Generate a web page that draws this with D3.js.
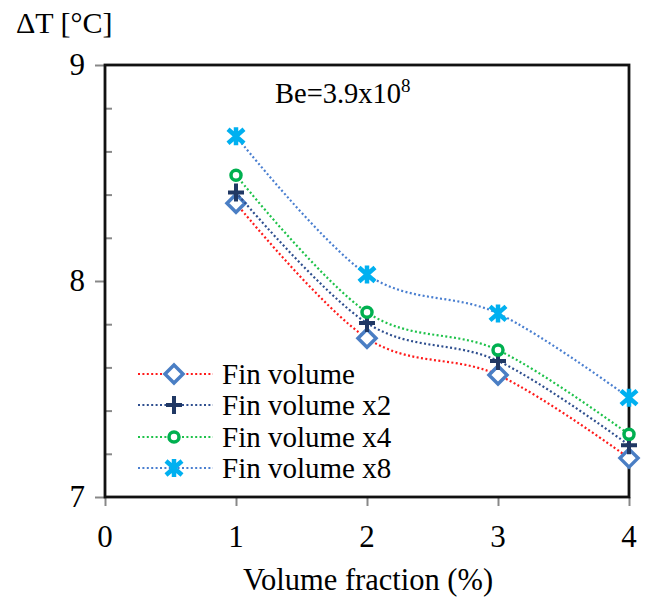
<!DOCTYPE html>
<html>
<head>
<meta charset="utf-8">
<script src="https://cdn.jsdelivr.net/npm/d3@7"></script>
<style>
  body { margin: 0; background: #fff; }
  text { font-family: "Liberation Serif", "Times New Roman", serif; fill: #000; }
</style>
</head>
<body>
<svg id="chart" width="649" height="603"></svg>
<script>
var svg = d3.select("#chart")
var plotLeft = 105, plotRight = 629, plotTop = 65, plotBottom = 497

// Data
var volumeFraction = [1, 2, 3, 4]
var seriesNames = ["Fin volume", "Fin volume x2", "Fin volume x4", "Fin volume x8"]
var finVolume   = [8.36, 7.735, 7.565, 7.18]
var finVolumeX2 = [8.41, 7.805, 7.63, 7.24]
var finVolumeX4 = [8.49, 7.855, 7.68, 7.29]
var finVolumeX8 = [8.67, 8.03, 7.85, 7.46]
var xTicks = [0, 1, 2, 3, 4]
var yTicks = [7, 8, 9]
var yMinorTicks = [7.2, 7.4, 7.6, 7.8, 8.2, 8.4, 8.6, 8.8]

var lineColors = ["#ff1a1a", "#2f4f8f", "#1ec24a", "#4a7fd0"]
var markerColors = ["#4a7ec4", "#203864", "#00b050", "#00b0f0"]
var markerTypes = ["diamond", "plus", "circle", "star"]
var seriesValues = [finVolume, finVolumeX2, finVolumeX4, finVolumeX8]

var x = d3.scaleLinear().domain([0, 4]).range([plotLeft, plotRight])
var y = d3.scaleLinear().domain([7, 9]).range([plotBottom, plotTop])

// axes
svg.append("g").attr("transform", "translate(0," + plotBottom + ")")
    .call(d3.axisBottom(x).tickValues(xTicks).tickSize(9).tickFormat(""))
    .call(g => g.select(".domain").remove())
    .call(g => g.selectAll("line").attr("stroke", "#888").attr("stroke-width", 2))
svg.append("g").attr("transform", "translate(" + plotLeft + ",0)")
    .call(d3.axisLeft(y).tickValues(yTicks).tickSize(10).tickFormat(""))
    .call(g => g.select(".domain").remove())
    .call(g => g.selectAll("line").attr("stroke", "#888").attr("stroke-width", 2))
svg.append("g").attr("transform", "translate(" + plotLeft + ",0)")
    .call(d3.axisRight(y).tickValues(yMinorTicks).tickSize(7).tickFormat(""))
    .call(g => g.select(".domain").remove())
    .call(g => g.selectAll("line").attr("stroke", "#888").attr("stroke-width", 2))

svg.append("rect")
    .attr("x", plotLeft).attr("y", plotTop)
    .attr("width", plotRight - plotLeft).attr("height", plotBottom - plotTop)
    .attr("fill", "none").attr("stroke", "#111").attr("stroke-width", 2.8)

svg.selectAll(".xlab").data(xTicks).enter().append("text")
    .attr("x", d => x(d)).attr("y", 547)
    .attr("text-anchor", "middle").attr("font-size", 31)
    .text(d => d)
svg.selectAll(".ylab").data(yTicks).enter().append("text")
    .attr("x", 85).attr("y", d => y(d) + 10)
    .attr("text-anchor", "end").attr("font-size", 31)
    .text(d => d)

svg.append("text").attr("x", 368).attr("y", 590)
    .attr("text-anchor", "middle").attr("font-size", 30.5)
    .text("Volume fraction (%)")
svg.append("text").attr("x", 16).attr("y", 33)
    .attr("font-size", 30)
    .text("\u0394T [\u00b0C]")

var be = svg.append("text").attr("x", 275).attr("y", 103).attr("font-size", 28.5)
be.append("tspan").text("Be=3.9x10")
be.append("tspan").attr("font-size", 19).attr("dy", -11).text("8")

// markers
function drawMarker(g, type, color, cx, cy) {
    if (type === "diamond") {
        g.append("path").attr("d", "M0,-9L9,0L0,9L-9,0Z")
            .attr("transform", "translate(" + cx + "," + cy + ")")
            .attr("fill", "#fff").attr("stroke", color).attr("stroke-width", 3.5)
    } else if (type === "plus") {
        g.append("path").attr("d", "M-8,0L8,0M0,-9L0,9")
            .attr("transform", "translate(" + cx + "," + cy + ")")
            .attr("fill", "none").attr("stroke", color).attr("stroke-width", 4)
    } else if (type === "circle") {
        g.append("circle").attr("cx", cx).attr("cy", cy).attr("r", 5)
            .attr("fill", "#fff").attr("stroke", color).attr("stroke-width", 3.5)
    } else {
        g.append("path").attr("d", "M-8,-7L8,7M8,-7L-8,7M0,-9L0,9")
            .attr("transform", "translate(" + cx + "," + cy + ")")
            .attr("fill", "none").attr("stroke", color).attr("stroke-width", 4.5)
    }
}

var line = d3.line().x(d => x(d[0])).y(d => y(d[1])).curve(d3.curveCardinal.tension(0))

seriesValues.forEach(function(vals, i) {
    var pts = volumeFraction.map((v, j) => [v, vals[j]])
    var g = svg.append("g")
    g.append("path").datum(pts).attr("d", line)
        .attr("fill", "none").attr("stroke", lineColors[i])
        .attr("stroke-width", 2.2).attr("stroke-dasharray", "2,2.4")
    pts.forEach(p => drawMarker(g, markerTypes[i], markerColors[i], x(p[0]), y(p[1])))
})

// legend
var legendY = [374, 405, 437, 468]
seriesNames.forEach(function(name, i) {
    var g = svg.append("g")
    g.append("line").attr("x1", 138).attr("x2", 213)
        .attr("y1", legendY[i]).attr("y2", legendY[i])
        .attr("stroke", lineColors[i]).attr("stroke-width", 2.2).attr("stroke-dasharray", "2,2.4")
    drawMarker(g, markerTypes[i], markerColors[i], 174, legendY[i])
    g.append("text").attr("x", 222).attr("y", legendY[i] + 10)
        .attr("font-size", 29).text(name)
})
</script>
</body>
</html>
